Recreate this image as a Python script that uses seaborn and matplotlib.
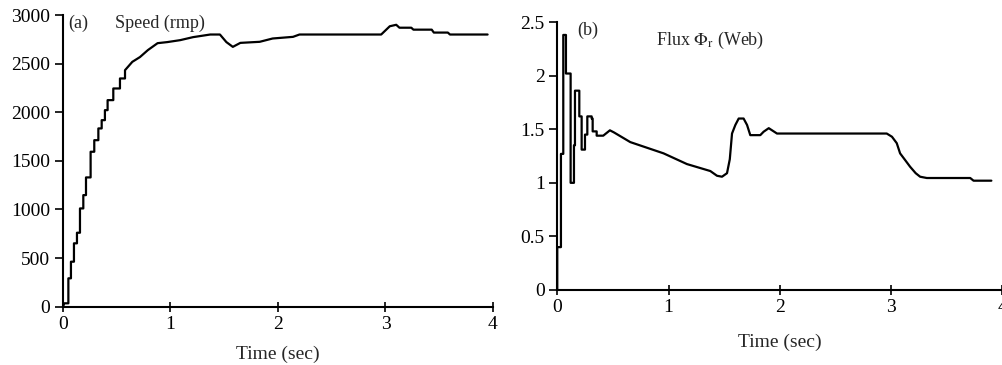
import matplotlib
matplotlib.use("Agg")
import matplotlib.pyplot as plt
import seaborn as sns
import pandas as pd

# ---- data ----
speed_t = [0.0, 0.012, 0.05, 0.05, 0.074, 0.074, 0.102, 0.102, 0.13, 0.13, 0.158, 0.158,
           0.189, 0.189, 0.214, 0.214, 0.257, 0.257, 0.291, 0.291, 0.329, 0.329,
           0.36, 0.36, 0.39, 0.39, 0.415, 0.415, 0.468, 0.468, 0.53, 0.53, 0.577, 0.577,
           0.645, 0.716, 0.79, 0.88, 0.97, 1.09, 1.21, 1.37, 1.46, 1.52, 1.58, 1.65,
           1.83, 1.95, 2.14, 2.2, 2.96, 3.04, 3.10, 3.13, 3.24, 3.26, 3.43, 3.45,
           3.58, 3.60, 3.95]
speed_v = [0, 35, 35, 292, 292, 463, 463, 652, 652, 761, 761, 1011,
           1011, 1148, 1148, 1330, 1330, 1594, 1594, 1713, 1713, 1834,
           1834, 1919, 1919, 2022, 2022, 2125, 2125, 2245, 2245, 2348, 2348, 2433,
           2519, 2568, 2640, 2711, 2722, 2742, 2773, 2800, 2800, 2722, 2673, 2714,
           2725, 2759, 2776, 2800, 2800, 2885, 2900, 2870, 2870, 2850, 2850, 2820,
           2820, 2800, 2800]

flux_t = [0.0, 0.0, 0.033, 0.033, 0.054, 0.054, 0.078, 0.078, 0.12, 0.12, 0.15, 0.15,
          0.159, 0.159, 0.198, 0.198, 0.219, 0.219, 0.249, 0.249, 0.27, 0.27,
          0.309, 0.309, 0.318, 0.318, 0.354, 0.354, 0.413, 0.473, 0.51, 0.656,
          0.955, 1.165, 1.375, 1.435, 1.48, 1.525, 1.55, 1.57, 1.60, 1.63, 1.674,
          1.705, 1.734, 1.824, 1.854, 1.90, 1.974, 2.96, 3.007, 3.05, 3.08, 3.127,
          3.17, 3.22, 3.26, 3.32, 3.71, 3.74, 3.90]
flux_v = [0.0, 0.40, 0.40, 1.27, 1.27, 2.38, 2.38, 2.02, 2.02, 1.0, 1.0, 1.35,
          1.35, 1.86, 1.86, 1.62, 1.62, 1.31, 1.31, 1.45, 1.45, 1.62,
          1.62, 1.60, 1.60, 1.48, 1.48, 1.44, 1.44, 1.49, 1.47, 1.38,
          1.275, 1.175, 1.11, 1.066, 1.057, 1.09, 1.22, 1.46, 1.54, 1.60, 1.60,
          1.54, 1.445, 1.445, 1.477, 1.51, 1.46, 1.46, 1.43, 1.37, 1.275, 1.21,
          1.15, 1.09, 1.057, 1.045, 1.045, 1.02, 1.02]

speed_ticks = [0, 500, 1000, 1500, 2000, 2500, 3000]
flux_ticks = [0, 0.5, 1, 1.5, 2, 2.5]
flux_tick_labels = ["0", "0.5", "1", "1.5", "2", "2.5"]
time_ticks = [0, 1, 2, 3, 4]

sns.set_style("ticks")
plt.rcParams["font.family"] = ["Liberation Serif", "DejaVu Serif"]
plt.rcParams["mathtext.fontset"] = "stix"

fig = plt.figure(figsize=(10.03, 3.65), dpi=100)
axA = fig.add_axes([0.0628, 0.1597, 0.4287, 0.799])
axB = fig.add_axes([0.5556, 0.2055, 0.4439, 0.734])

dfA = pd.DataFrame({"t": speed_t, "v": speed_v})
dfB = pd.DataFrame({"t": flux_t, "v": flux_v})

sns.lineplot(data=dfA, x="t", y="v", ax=axA, color="black", linewidth=1.6,
             sort=False, estimator=None)
sns.lineplot(data=dfB, x="t", y="v", ax=axB, color="black", linewidth=1.6,
             sort=False, estimator=None)

fs = 14
fs_ann = 13
for ax in (axA, axB):
    ax.set_xlim(0, 4)
    ax.set_xticks(time_ticks)
    ax.set_xticklabels([str(t) for t in time_ticks], fontsize=fs)
    for s in ("top", "right"):
        ax.spines[s].set_visible(False)
    for s in ("left", "bottom"):
        ax.spines[s].set_linewidth(1.5)
        ax.spines[s].set_color("black")
    ax.tick_params(axis="x", direction="inout", length=7, width=1.2, pad=3, colors="black")
    ax.tick_params(axis="y", direction="out", length=6, width=1.2, pad=3, colors="black")
    ax.set_ylabel("")

axA.set_ylim(0, 3000)
axA.set_yticks(speed_ticks)
axA.set_yticklabels([str(v) for v in speed_ticks], fontsize=fs)
axA.set_xlabel("Time (sec)", fontsize=fs, labelpad=9)
axA.text(0.05, 2916, "(a)", fontsize=fs_ann, va="center", ha="left")
axA.text(0.48, 2916, "Speed (rmp)", fontsize=fs_ann, va="center", ha="left")

axB.set_ylim(0, 2.5)
axB.set_yticks(flux_ticks)
axB.set_yticklabels(flux_tick_labels, fontsize=fs)
axB.set_xlabel("Time (sec)", fontsize=fs, labelpad=13)
axB.text(0.177, 2.425, "(b)", fontsize=fs_ann, va="center", ha="left")
axB.text(0.887, 2.33, r"Flux $\Phi_{\rm r}$ (Web)", fontsize=fs_ann, va="center", ha="left")

for ax in (axA, axB):
    for sp in ax.spines.values():
        sp.set_clip_on(False)

fig.savefig("out.png", dpi=100, facecolor="white")
